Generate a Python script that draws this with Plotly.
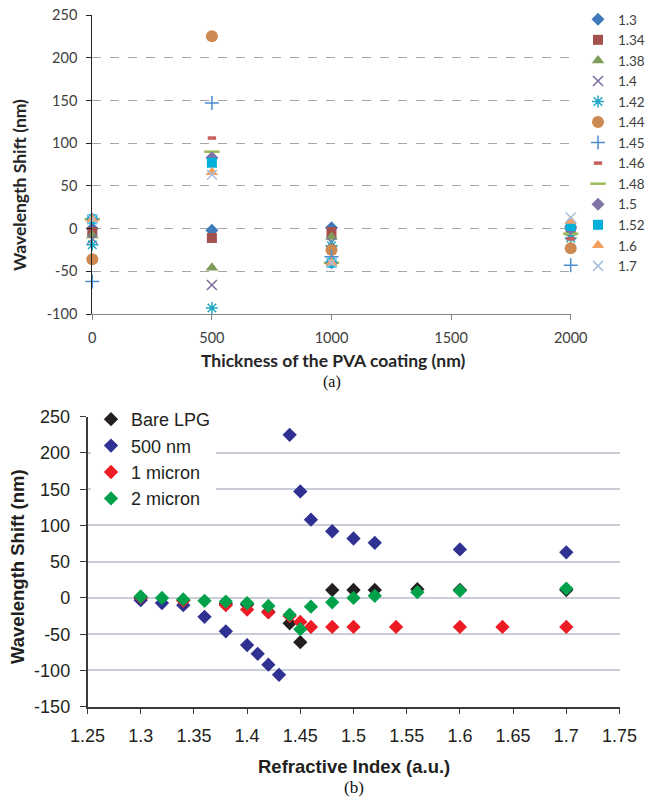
import plotly.graph_objects as go

# ---------------- (a) data: shift vs coating thickness, one series per RI ----------------
thickness = [0, 500, 1000, 2000]
ri_labels = ["1.3", "1.34", "1.38", "1.4", "1.42", "1.44", "1.45", "1.46", "1.48", "1.5", "1.52", "1.6", "1.7"]
shift_a_0 = [0, -4, -8, -12, -19, -36, -62, None, 11, 11, 11, 11, 11]
shift_a_500 = [-2, -11, -46, -66, -93, 225, 147, 106, 90, 83, 77, 66, 63]
shift_a_1000 = [1, -4, -10, -16, -20, -25, -33, -40, -40, -40, -40, -40, -40]
shift_a_2000 = [2, -2, -5, -7, -11, -23, -43, -12, -6, 0, 3, 9, 13]

a_y_ticks = [-100, -50, 0, 50, 100, 150, 200, 250]
a_y_ticktext = ["-100", "-50", "0", "50", "100", "150", "200", "250"]

# ---------------- (b) data: shift vs refractive index, one series per coating ----------------
ri_bare = [1.3, 1.34, 1.38, 1.4, 1.42, 1.44, 1.45, 1.48, 1.5, 1.52, 1.56, 1.6, 1.7]
shift_bare = [0, -3, -8, -9, -19, -35, -61, 11, 11, 11, 12, 11, 11]
ri_500 = [1.3, 1.32, 1.34, 1.36, 1.38, 1.4, 1.41, 1.42, 1.43, 1.44, 1.45, 1.46, 1.48, 1.5, 1.52, 1.6, 1.7]
shift_500 = [-3, -7, -10, -26, -46, -65, -77, -92, -106, 225, 147, 108, 92, 82, 76, 67, 63]
ri_1um = [1.3, 1.34, 1.38, 1.4, 1.42, 1.44, 1.45, 1.46, 1.48, 1.5, 1.54, 1.6, 1.64, 1.7]
shift_1um = [1, -4, -10, -16, -20, -25, -33, -40, -40, -40, -40, -40, -40, -40]
ri_2um = [1.3, 1.32, 1.34, 1.36, 1.38, 1.4, 1.42, 1.44, 1.45, 1.46, 1.48, 1.5, 1.52, 1.56, 1.6, 1.7]
shift_2um = [2, 0, -2, -4, -5, -7, -11, -23, -43, -12, -6, 0, 3, 8, 10, 13]

b_x_ticks = [1.25, 1.3, 1.35, 1.4, 1.45, 1.5, 1.55, 1.6, 1.65, 1.7, 1.75]
b_x_ticktext = ["1.25", "1.3", "1.35", "1.4", "1.45", "1.5", "1.55", "1.6", "1.65", "1.7", "1.75"]
b_y_ticks = [-150, -100, -50, 0, 50, 100, 150, 200, 250]
b_y_ticktext = ["-150", "-100", "-50", "0", "50", "100", "150", "200", "250"]

# ---------------- styles ----------------
a_styles = [
    dict(symbol="diamond", size=10, color="#3F7BBA"),
    dict(symbol="square", size=10, color="#A5524F"),
    dict(symbol="triangle-up", size=11, color="#7F9D5A"),
    dict(symbol="x-thin", size=10, color="#7B6A9D", line=True),
    dict(symbol="asterisk", size=10, color="#21A6C6", line=True),
    dict(symbol="circle", size=12, color="#CC8A52"),
    dict(symbol="cross-thin", size=10, color="#4A90D0", line=True),
    dict(symbol="line-ew", size=6, color="#C8605F", line=True, lw=3.5),
    dict(symbol="line-ew", size=11, color="#9BBB59", line=True, lw=2.5),
    dict(symbol="diamond", size=10, color="#8073A6"),
    dict(symbol="square", size=10, color="#00B0DA"),
    dict(symbol="triangle-up", size=11, color="#F4A060"),
    dict(symbol="x-thin", size=10, color="#A8C0E0", line=True),
]

fig = go.Figure()

for i, lab in enumerate(ri_labels):
    st = a_styles[i]
    ys = [shift_a_0[i], shift_a_500[i], shift_a_1000[i], shift_a_2000[i]]
    if st.get("line"):
        marker = dict(symbol=st["symbol"], size=st["size"], color=st["color"],
                      line=dict(color=st["color"], width=st.get("lw", 1.5)))
    else:
        marker = dict(symbol=st["symbol"], size=st["size"], color=st["color"], line=dict(width=0))
    fig.add_trace(go.Scatter(x=thickness, y=ys, mode="markers", name=lab, marker=marker,
                             xaxis="x", yaxis="y", legend="legend", cliponaxis=False,
                             legendgroup="a" + lab))

b_series = [
    ("Bare LPG", ri_bare, shift_bare, "#231F20"),
    ("500 nm", ri_500, shift_500, "#2E3192"),
    ("1 micron", ri_1um, shift_1um, "#ED1C24"),
    ("2 micron", ri_2um, shift_2um, "#00A14B"),
]
for name, xs, ys, col in b_series:
    fig.add_trace(go.Scatter(x=xs, y=ys, mode="markers", name=name,
                             marker=dict(symbol="diamond", size=11, color=col, line=dict(width=0)),
                             xaxis="x2", yaxis="y2", legend="legend2", cliponaxis=False,
                             legendgroup="b" + name))

W, H = 651, 800
def px_x(p):
    return p / W
def px_y(p):
    return 1 - p / H

fa = dict(family="Lato, sans-serif", size=14.5, color="#404040")
fb = dict(family="Liberation Sans, Arial, sans-serif", size=18, color="#231F20")

fig.update_layout(
    width=W, height=H,
    margin=dict(l=0, r=0, t=0, b=0, autoexpand=False),
    paper_bgcolor="white", plot_bgcolor="white",
    showlegend=True,
    xaxis=dict(domain=[px_x(92.3), px_x(570.7)], range=[0, 2000], tickvals=[0, 500, 1000, 1500, 2000],
               showgrid=False, zeroline=False, showline=True, linecolor="#868686", linewidth=1.2,
               ticks="outside", ticklen=5, tickcolor="#868686", tickfont=fa, ticklabelstandoff=5,
               anchor="y", fixedrange=True),
    yaxis=dict(domain=[px_y(314), px_y(15)], range=[-100, 250], tickvals=a_y_ticks, ticktext=a_y_ticktext,
               showgrid=True, gridcolor="#A6A6A6", griddash="dash", gridwidth=1,
               zeroline=False, showline=True, linecolor="#222222", linewidth=1.2,
               ticks="outside", ticklen=5, tickcolor="#222222", tickfont=fa, ticklabelstandoff=6,
               anchor="x", fixedrange=True),
    xaxis2=dict(domain=[px_x(87.5), px_x(619.5)], range=[1.25, 1.75], tickvals=b_x_ticks, ticktext=b_x_ticktext,
                showgrid=False, zeroline=False, showline=True, linecolor="#3A3A3A", linewidth=1.5,
                ticks="outside", ticklen=6, tickcolor="#3A3A3A", tickfont=fb, ticklabelstandoff=6,
                anchor="y2", fixedrange=True),
    yaxis2=dict(domain=[px_y(706.7), px_y(416.7)], range=[-150, 250], tickvals=b_y_ticks, ticktext=b_y_ticktext,
                showgrid=True, gridcolor="#C9CDD8", gridwidth=1.5,
                zeroline=False, showline=True, linecolor="#3A3A3A", linewidth=1.5,
                ticks="outside", ticklen=6, tickcolor="#3A3A3A", tickfont=fb, ticklabelstandoff=6,
                anchor="x2", fixedrange=True),
    legend=dict(x=px_x(578), y=px_y(4), xanchor="left", yanchor="top",
                font=dict(family="Lato, sans-serif", size=13.5, color="#404040"),
                bgcolor="rgba(255,255,255,0)", traceorder="grouped", tracegroupgap=0),
    legend2=dict(x=px_x(91), y=px_y(401), xanchor="left", yanchor="top",
                 font=dict(family="Liberation Sans, Arial, sans-serif", size=18, color="#231F20"),
                 bgcolor="white", traceorder="grouped", tracegroupgap=0),
    annotations=[
        dict(text="<b>Thickness of the PVA coating (nm)</b>", x=px_x(333), y=px_y(361), xref="paper", yref="paper",
             showarrow=False, font=dict(family="Lato, sans-serif", size=17.5, color="#262626"),
             xanchor="center", yanchor="middle"),
        dict(text="<b>Wavelength Shift (nm)</b>", x=px_x(20), y=px_y(185), xref="paper", yref="paper",
             showarrow=False, textangle=-90, font=dict(family="Lato, sans-serif", size=17.5, color="#262626"),
             xanchor="center", yanchor="middle"),
        dict(text="(a)", x=px_x(332), y=px_y(382), xref="paper", yref="paper", showarrow=False,
             font=dict(family="Liberation Serif, serif", size=16, color="#111111"),
             xanchor="center", yanchor="middle"),
        dict(text="<b>Refractive Index (a.u.)</b>", x=px_x(354), y=px_y(766), xref="paper", yref="paper",
             showarrow=False, font=dict(family="Liberation Sans, Arial, sans-serif", size=18.5, color="#231F20"),
             xanchor="center", yanchor="middle"),
        dict(text="<b>Wavelength Shift (nm)</b>", x=px_x(17), y=px_y(567), xref="paper", yref="paper",
             showarrow=False, textangle=-90,
             font=dict(family="Liberation Sans, Arial, sans-serif", size=18.5, color="#231F20"),
             xanchor="center", yanchor="middle"),
        dict(text="(b)", x=px_x(354), y=px_y(787), xref="paper", yref="paper", showarrow=False,
             font=dict(family="Liberation Serif, serif", size=17, color="#111111"),
             xanchor="center", yanchor="middle"),
    ],
)

fig.write_html("out.html")
